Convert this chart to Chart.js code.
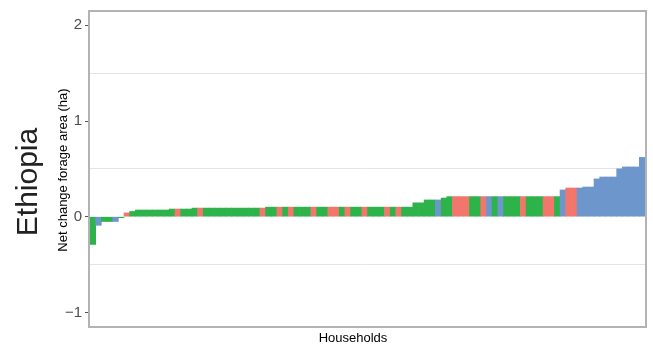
<!DOCTYPE html>
<html>
<head>
<meta charset="utf-8">
<title>Ethiopia – net change forage area</title>
<script src="https://cdn.jsdelivr.net/npm/chart.js@4.4.1/dist/chart.umd.min.js"></script>
<style>
  html, body { margin: 0; padding: 0; background: #ffffff; }
  #wrap { width: 653px; height: 347px; }
</style>
</head>
<body>
<div id="wrap"><canvas id="c" width="653" height="347"></canvas></div>
<script>
// Net change in forage area (ha) per household, sorted ascending
const values = [
  -0.29, -0.09, -0.05, -0.05, -0.05, -0.01, 0.04, 0.055,
  0.07, 0.07, 0.07, 0.07, 0.07, 0.07,
  0.08, 0.08, 0.08, 0.08,
  0.09, 0.09, 0.09, 0.09, 0.09, 0.09, 0.09, 0.09, 0.09, 0.09, 0.09, 0.09, 0.09,
  0.10, 0.10, 0.10, 0.10, 0.10, 0.10, 0.10, 0.10, 0.10, 0.10, 0.10, 0.10, 0.10,
  0.10, 0.10, 0.10, 0.10, 0.10, 0.10, 0.10, 0.10, 0.10, 0.10, 0.10, 0.10, 0.10,
  0.145, 0.145, 0.175, 0.175, 0.175, 0.195,
  0.21, 0.21, 0.21, 0.21, 0.21, 0.21, 0.21, 0.21, 0.21, 0.21, 0.21, 0.21, 0.21,
  0.21, 0.21, 0.21, 0.21, 0.21, 0.21, 0.21,
  0.28, 0.30, 0.30, 0.30, 0.31, 0.31, 0.395, 0.415, 0.415, 0.415,
  0.50, 0.52, 0.52, 0.52, 0.62
];

// Household group (fill colour class) for each bar, same order as values
const groups = [
  'A', 'C', 'A', 'A', 'C', 'A', 'B', 'A',
  'A', 'A', 'A', 'A', 'A', 'A',
  'A', 'B', 'A', 'A',
  'A', 'B', 'A', 'A', 'A', 'A', 'A', 'A', 'A', 'A', 'A', 'A', 'B',
  'A', 'A', 'B', 'A', 'B', 'A', 'A', 'A', 'B', 'A', 'A', 'B', 'B',
  'A', 'B', 'A', 'A', 'B', 'A', 'A', 'A', 'B', 'A', 'B', 'A', 'A',
  'A', 'A', 'A', 'A', 'C', 'A',
  'A', 'B', 'B', 'B', 'A', 'A', 'B', 'C', 'A', 'C', 'A', 'A', 'A',
  'B', 'A', 'A', 'A', 'B', 'B', 'A',
  'C', 'B', 'B', 'C', 'C', 'C', 'C', 'C', 'C', 'C',
  'C', 'C', 'C', 'C', 'C'
];

const groupColors = { A: '#2EB34B', B: '#F3766D', C: '#6D96CC' };

// y axis ticks: labelled integers, unlabelled half-step grid lines
const yTicks = [-1, -0.5, 0, 0.5, 1, 1.5, 2];

const households = values.map((_, i) => 'HH' + (i + 1));

const FONT = "'Liberation Sans', Arial, Helvetica, sans-serif";

const panelDecor = {
  id: 'panelDecor',
  afterDraw(chart) {
    const { ctx, chartArea: a } = chart;
    ctx.save();
    // panel border
    ctx.strokeStyle = '#b3b3b3';
    ctx.lineWidth = 2;
    ctx.strokeRect(a.left - 1, a.top - 1, a.right - a.left + 2, a.bottom - a.top + 2);

    // country label
    ctx.fillStyle = '#222222';
    ctx.font = '30px ' + FONT;
    ctx.textAlign = 'center';
    ctx.textBaseline = 'alphabetic';
    ctx.save();
    ctx.translate(37, 182);
    ctx.rotate(-Math.PI / 2);
    ctx.fillText('Ethiopia', 0, 0);
    ctx.restore();

    // y axis title
    ctx.fillStyle = '#000000';
    ctx.font = '13px ' + FONT;
    ctx.textBaseline = 'middle';
    ctx.save();
    ctx.translate(63.5, 170);
    ctx.rotate(-Math.PI / 2);
    ctx.fillText('Net change forage area (ha)', 0, 0);
    ctx.restore();

    // x axis title
    ctx.fillText('Households', 353, 338.5);
    ctx.restore();
  }
};

new Chart(document.getElementById('c'), {
  type: 'bar',
  data: {
    labels: households,
    datasets: [{
      data: values,
      backgroundColor: groups.map(g => groupColors[g]),
      borderWidth: 0,
      barPercentage: 1,
      categoryPercentage: 1
    }]
  },
  options: {
    responsive: false,
    animation: false,
    devicePixelRatio: 1,
    layout: { padding: { left: 0, right: 8, top: 10, bottom: 21 } },
    plugins: { legend: { display: false }, tooltip: { enabled: false } },
    scales: {
      x: { display: false },
      y: {
        min: -1.142,
        max: 2.139,
        afterBuildTicks: s => { s.ticks = yTicks.map(v => ({ value: v })); },
        afterFit: s => { s.width = 90; },
        border: { display: false },
        grid: {
          lineWidth: 1,
          color: c => Number.isInteger(c.tick.value) ? 'rgba(0,0,0,0)' : '#e4e4e4',
          tickColor: c => Number.isInteger(c.tick.value) ? '#555555' : 'rgba(0,0,0,0)',
          tickLength: 5,
          drawTicks: true
        },
        ticks: {
          padding: 3,
          color: '#4d4d4d',
          font: { family: FONT, size: 15 },
          callback: v => Number.isInteger(v) ? (v < 0 ? '\u2212' + Math.abs(v) : String(v)) : ''
        }
      }
    }
  },
  plugins: [panelDecor]
});
</script>
</body>
</html>
